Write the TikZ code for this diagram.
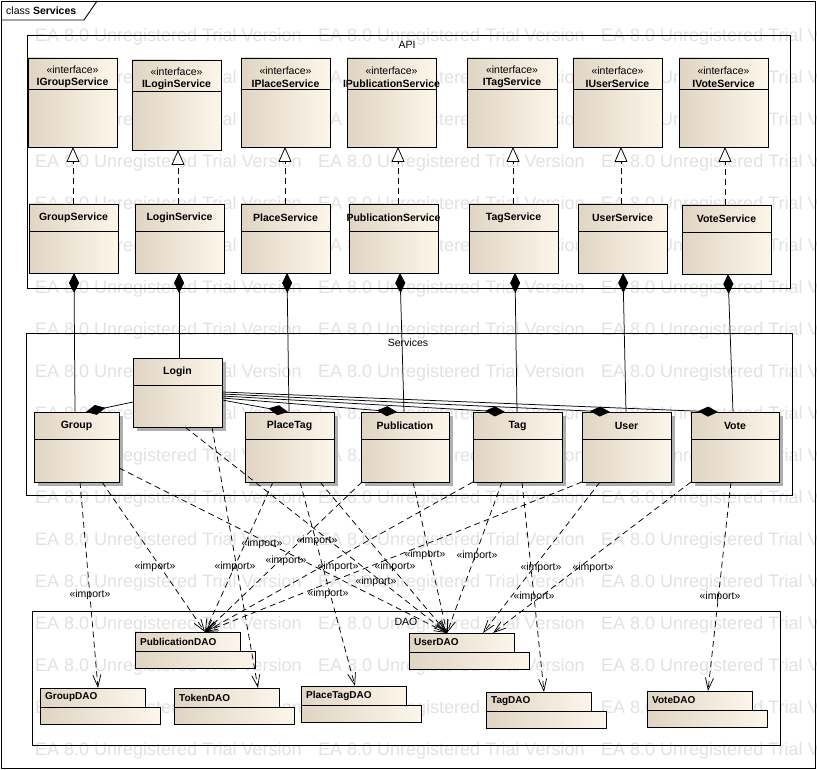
\documentclass[tikz,border=0pt]{standalone}
\usepackage{fontspec}
\setmainfont{Liberation Sans}
\usetikzlibrary{arrows.meta,calc,shadows}
\definecolor{boxL}{RGB}{224,213,195}
\definecolor{boxR}{RGB}{252,246,234}
\definecolor{wmgray}{RGB}{226,226,226}
\definecolor{shgray}{RGB}{175,175,175}

\newcommand\umlcls[8]{%
  \node[#8, minimum width=#4pt, minimum height=#5pt, anchor=north west] (#1) at (#2,#3) {};
  \draw[hline] ($(#1.north west)+(0,#6)$) -- ($(#1.north east)+(0,#6)$);
  \node[cname] (#1-t) at ($(#1.north)+(0,#6/2)$) {#7};
}
\newcommand\umlint[6]{%
  \node[cbox, minimum width=#4pt, minimum height=#5pt, anchor=north west] (#1) at (#2,#3) {};
  \draw[hline] ($(#1.north west)+(0,31)$) -- ($(#1.north east)+(0,31)$);
  \node[cname] (#1-t) at ($(#1.north)+(0,19)$) {{\mdseries «interface»}\\#6};
}
\newcommand\umlpkg[4]{%
  \node[cbox, minimum width=105pt, minimum height=19pt, anchor=north west] (#1) at (#2,#3) {};
  \node[cbox, minimum width=120pt, minimum height=17pt, anchor=north west] (#1-b) at (#1.south west) {};
  \node[pname, anchor=west] (#1-n) at ($(#1.west)+(5,0)$) {#4};
}

\begin{document}
\begin{tikzpicture}[x=1pt,y=-1pt,
  cbox/.style={draw=black,line width=0.9pt,left color=boxL,right color=boxR,inner sep=0pt,outer sep=0pt},
  shbox/.style={cbox,drop shadow={shadow xshift=4pt,shadow yshift=-4pt,fill=shgray,opacity=1}},
  cname/.style={font=\fontsize{10.5}{12.5}\selectfont\bfseries,align=center,inner sep=0pt},
  hline/.style={line width=0.9pt},
  frame/.style={draw=black,line width=0.9pt,inner sep=0pt,outer sep=0pt},
  flabel/.style={font=\fontsize{10.5}{12}\selectfont,inner sep=0pt},
  implabel/.style={font=\fontsize{10.5}{12}\selectfont,inner sep=0pt},
  imp/.style={line width=0.75pt,dash pattern=on 6pt off 4pt,-{Straight Barb[length=12pt,width=8pt]}},
  realize/.style={line width=0.75pt,dash pattern=on 6pt off 4pt,-{Triangle[length=15pt,width=13pt,fill=white]}},
  compS/.style={line width=0.75pt,{Diamond[length=20pt,width=10pt,fill=black]}-},
  compE/.style={line width=0.75pt,-{Diamond[length=20pt,width=10pt,fill=black]}},
  pname/.style={font=\fontsize{10}{12}\selectfont\bfseries,inner sep=0pt},
  wm/.style={font=\fontsize{18}{20}\selectfont,text=wmgray,inner sep=0pt,anchor=west}]
\useasboundingbox (0,0) rectangle (817,770);
\fill[white] (0,0) rectangle (817,770);

% watermark
\foreach \i in {0,...,17}{\foreach \j in {0,1,2}{
  \node[wm] (wm-\i-\j) at ({35+283*\j},{37+42*\i}) {EA 8.0 Unregistered Trial Version};}}

% frames
\node[frame,minimum width=814pt,minimum height=767pt,anchor=north west] (outer) at (1,1) {};
\coordinate (tabA) at (1,20); \coordinate (tabB) at (84,20); \coordinate (tabC) at (97,1);
\draw[line width=0.9pt] (tabA) -- (tabB) -- (tabC);
\node[anchor=west,font=\fontsize{10.5}{12}\selectfont,inner sep=0pt] (title) at (6,11) {class \textbf{Services}};

\node[frame,minimum width=763pt,minimum height=253pt,anchor=north west] (api) at (27,35) {};
\node[flabel] (api-l) at (407,45) {API};
\node[frame,minimum width=766pt,minimum height=162pt,anchor=north west] (srv) at (26,333) {};
\node[flabel] (srv-l) at (408,343) {Services};
\node[frame,minimum width=748pt,minimum height=134pt,anchor=north west] (dao) at (32,611) {};
\node[flabel] (dao-l) at (406,622) {DAO};

% interfaces
\umlint{igs}{28}{58}{89}{89}{IGroupService}
\umlint{ils}{132}{60}{89}{90}{ILoginService}
\umlint{ips}{241}{58}{89}{89}{IPlaceService}
\umlint{ipubs}{347}{58}{89}{89}{IPublicationService}
\umlint{its}{467}{58}{90}{89}{ITagService}
\umlint{ius}{573}{58}{89}{89}{IUserService}
\umlint{ivs}{679}{58}{89}{89}{IVoteService}

% services (API)
\umlcls{gs}{29}{204}{89}{69}{27}{GroupService}{cbox}
\umlcls{ls}{135}{204}{89}{69}{27}{LoginService}{cbox}
\umlcls{ps}{241}{204}{89}{69}{27}{PlaceService}{cbox}
\umlcls{pubs}{349}{204}{89}{69}{27}{PublicationService}{cbox}
\umlcls{ts}{469}{204}{89}{69}{27}{TagService}{cbox}
\umlcls{us}{578}{204}{89}{69}{27}{UserService}{cbox}
\umlcls{vs}{682}{205}{89}{69}{27}{VoteService}{cbox}

% services level
\umlcls{login}{133}{358}{89}{69}{27}{Login}{shbox}
\umlcls{group}{34}{412}{85}{70}{27}{Group}{shbox}
\umlcls{placetag}{245}{412}{89}{70}{27}{PlaceTag}{shbox}
\umlcls{publication}{361}{412}{88}{70}{27}{Publication}{shbox}
\umlcls{tag}{473}{412}{89}{70}{27}{Tag}{shbox}
\umlcls{user}{582}{412}{89}{70}{27}{User}{shbox}
\umlcls{vote}{691}{412}{88}{70}{27}{Vote}{shbox}

% DAO packages
\umlpkg{pubdao}{135}{632}{PublicationDAO}
\umlpkg{userdao}{409}{633}{UserDAO}
\umlpkg{groupdao}{40}{688}{GroupDAO}
\umlpkg{tokendao}{174}{688}{TokenDAO}
\umlpkg{placetagdao}{301}{686}{PlaceTagDAO}
\umlpkg{tagdao}{486}{692}{TagDAO}
\umlpkg{votedao}{647}{691}{VoteDAO}

% realizations
\draw[realize] ([xshift=44pt]gs.north west) -- ([xshift=44pt]gs.north west |- igs.south);
\draw[realize] ([xshift=43pt]ls.north west) -- ([xshift=43pt]ls.north west |- ils.south);
\draw[realize] ([xshift=44pt]ps.north west) -- ([xshift=44pt]ps.north west |- ips.south);
\draw[realize] ([xshift=49pt]pubs.north west) -- ([xshift=49pt]pubs.north west |- ipubs.south);
\draw[realize] ([xshift=44pt]ts.north west) -- ([xshift=44pt]ts.north west |- its.south);
\draw[realize] ([xshift=43pt]us.north west) -- ([xshift=43pt]us.north west |- ius.south);
\draw[realize] ([xshift=43pt]vs.north west) -- ([xshift=43pt]vs.north west |- ivs.south);

% compositions API -> services
\draw[compS] ([xshift=45pt]gs.south west) -- ([xshift=41pt]group.north west);
\draw[compS] ([xshift=44pt]ls.south west) -- ([xshift=46pt]login.north west);
\draw[compS] ([xshift=46pt]ps.south west) -- ([xshift=44pt]placetag.north west);
\draw[compS] ([xshift=51pt]pubs.south west) -- ([xshift=43pt]publication.north west);
\draw[compS] ([xshift=46pt]ts.south west) -- ([xshift=44pt]tag.north west);
\draw[compS] ([xshift=45pt]us.south west) -- ([xshift=44pt]user.north west);
\draw[compS] ([xshift=46pt]vs.south west) -- ([xshift=42pt]vote.north west);

% compositions Login -> others
\draw[compE] ([yshift=25pt]login.south west) -- ([xshift=52pt]group.north west);
\draw[compE] ([yshift=27pt]login.south east) -- ([xshift=43pt]placetag.north west);
\draw[compE] ([yshift=29pt]login.south east) -- ([xshift=36pt]publication.north west);
\draw[compE] ([yshift=31pt]login.south east) -- ([xshift=32pt]tag.north west);
\draw[compE] ([yshift=33pt]login.south east) -- ([xshift=28pt]user.north west);
\draw[compE] ([yshift=35pt]login.south east) -- ([xshift=27pt]vote.north west);

% imports
\draw[imp] ([xshift=46pt]group.south west) -- ([xshift=58pt]groupdao.north west);
\draw[imp] ([xshift=68pt]group.south west) -- ([xshift=70pt]pubdao.north west);
\draw[imp] ([yshift=14pt]group.south east) -- ([xshift=38pt]userdao.north west);
\draw[imp] ([xshift=79pt]login.south west) -- ([xshift=84pt]tokendao.north west);
\draw[imp] ([xshift=52pt]login.south west) -- ([xshift=38pt]userdao.north west);
\draw[imp] ([xshift=28pt]placetag.south west) -- ([xshift=70pt]pubdao.north west);
\draw[imp] ([xshift=55pt]placetag.south west) -- ([xshift=54pt]placetagdao.north west);
\draw[imp] ([xshift=75pt]placetag.south west) -- ([xshift=38pt]userdao.north west);
\draw[imp] ([xshift=1pt]publication.south west) -- ([xshift=70pt]pubdao.north west);
\draw[imp] ([xshift=52pt]publication.south west) -- ([xshift=38pt]userdao.north west);
\draw[imp] (tag.south west) -- ([xshift=70pt]pubdao.north west);
\draw[imp] ([xshift=29pt]tag.south west) -- ([xshift=38pt]userdao.north west);
\draw[imp] ([xshift=49pt]tag.south west) -- ([xshift=58pt]tagdao.north west);
\draw[imp] (user.south west) -- ([xshift=70pt]pubdao.north west);
\draw[imp] ([xshift=18pt]user.south west) -- ([xshift=74pt]userdao.north west);
\draw[imp] (vote.south west) -- ([xshift=84pt]userdao.north west);
\draw[imp] ([xshift=40pt]vote.south west) -- ([xshift=61pt]votedao.north west);

% import labels
\node[implabel] (il1) at (90,595) {«import»};
\node[implabel] (il2) at (155,567) {«import»};
\node[implabel] (il3) at (235,567) {«import»};
\node[implabel] (il4) at (262,544) {«import»};
\node[implabel] (il5) at (317,541) {«import»};
\node[implabel] (il6) at (286,561) {«import»};
\node[implabel] (il7) at (338,567) {«import»};
\node[implabel] (il8) at (328,594) {«import»};
\node[implabel] (il9) at (425,555) {«import»};
\node[implabel] (il10) at (477,556) {«import»};
\node[implabel] (il11) at (395,567) {«import»};
\node[implabel] (il12) at (376,582) {«import»};
\node[implabel] (il13) at (541,568) {«import»};
\node[implabel] (il14) at (534,597) {«import»};
\node[implabel] (il15) at (593,568) {«import»};
\node[implabel] (il16) at (720,597) {«import»};
\end{tikzpicture}
\end{document}
